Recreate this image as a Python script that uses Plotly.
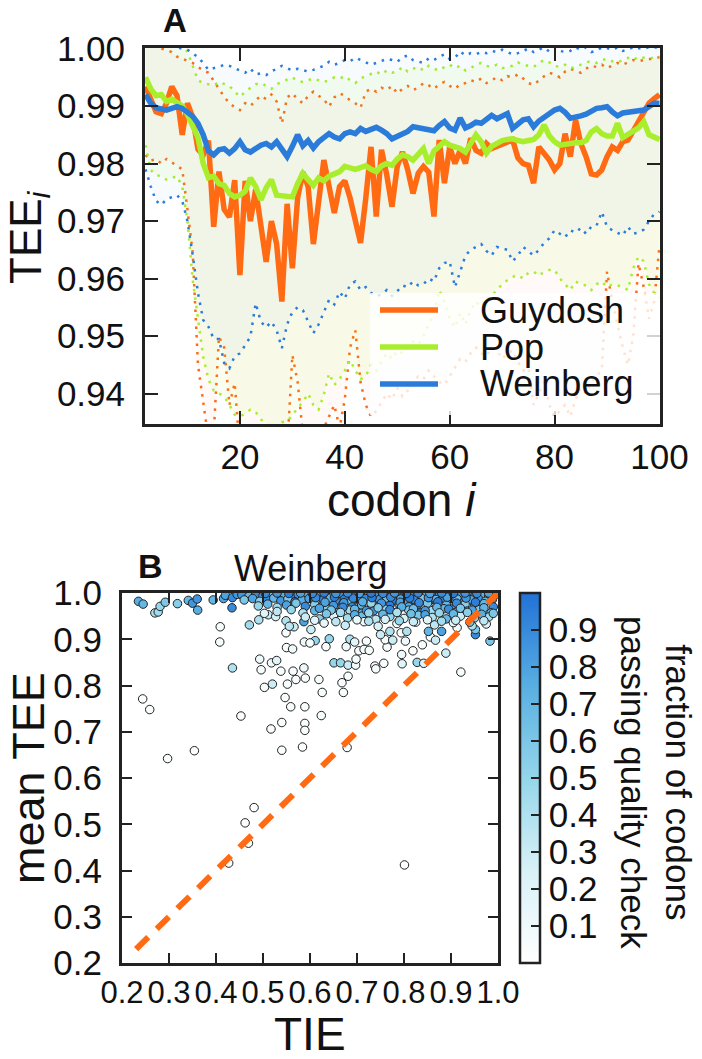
import plotly.graph_objects as go

# ---- panel A: TEE per codon position ----
codon = list(range(2, 101))

guydosh = [0.9934, 0.9910, 0.9890, 0.9887, 0.9905, 0.9934, 0.9918, 0.9850, 0.9905, 0.9880,
           0.9825, 0.9815, 0.9840, 0.9690, 0.9786, 0.9720, 0.9707, 0.9771, 0.9606, 0.9770,
           0.9700, 0.9755, 0.9690, 0.9629, 0.9700, 0.9660, 0.9560, 0.9730, 0.9618, 0.9740,
           0.9785, 0.9760, 0.9660, 0.9730, 0.9806, 0.9760, 0.9714, 0.9760, 0.9770, 0.9740,
           0.9705, 0.9662, 0.9740, 0.9829, 0.9708, 0.9824, 0.9780, 0.9725, 0.9795, 0.9820,
           0.9789, 0.9748, 0.9783, 0.9795, 0.9785, 0.9708, 0.9841, 0.9766, 0.9829, 0.9800,
           0.9823, 0.9800, 0.9844, 0.9823, 0.9818, 0.9835, 0.9826, 0.9830, 0.9835, 0.9838,
           0.9841, 0.9810, 0.9800, 0.9797, 0.9766, 0.9829, 0.9818, 0.9806, 0.9789, 0.9800,
           0.9852, 0.9812, 0.9876, 0.9835, 0.9812, 0.9782, 0.9780, 0.9789, 0.9812, 0.9829,
           0.9823, 0.9838, 0.9841, 0.9858, 0.9876, 0.9893, 0.9905, 0.9913, 0.9920]

pop = [0.9950, 0.9930, 0.9918, 0.9920, 0.9908, 0.9912, 0.9906, 0.9900, 0.9885, 0.9865,
       0.9845, 0.9800, 0.9775, 0.9778, 0.9765, 0.9762, 0.9748, 0.9742, 0.9745, 0.9752,
       0.9775, 0.9760, 0.9737, 0.9758, 0.9772, 0.9745, 0.9744, 0.9742, 0.9742, 0.9765,
       0.9783, 0.9772, 0.9762, 0.9775, 0.9770, 0.9778, 0.9782, 0.9786, 0.9795, 0.9792,
       0.9790, 0.9793, 0.9796, 0.9790, 0.9786, 0.9796, 0.9800, 0.9797, 0.9808, 0.9815,
       0.9812, 0.9806, 0.9815, 0.9826, 0.9800, 0.9822, 0.9830, 0.9838, 0.9832, 0.9830,
       0.9826, 0.9820, 0.9835, 0.9850, 0.9838, 0.9818, 0.9830, 0.9836, 0.9840, 0.9842,
       0.9843, 0.9840, 0.9838, 0.9840, 0.9842, 0.9850, 0.9867, 0.9848, 0.9838, 0.9832,
       0.9834, 0.9836, 0.9836, 0.9836, 0.9840, 0.9855, 0.9861, 0.9852, 0.9848, 0.9848,
       0.9870, 0.9845, 0.9850, 0.9855, 0.9862, 0.9873, 0.9850, 0.9846, 0.9842]

weinberg = [0.9920, 0.9905, 0.9897, 0.9895, 0.9893, 0.9896, 0.9899, 0.9896, 0.9890, 0.9882,
            0.9870, 0.9850, 0.9822, 0.9815, 0.9824, 0.9826, 0.9818, 0.9826, 0.9838, 0.9824,
            0.9820, 0.9826, 0.9832, 0.9835, 0.9829, 0.9838, 0.9826, 0.9812, 0.9830, 0.9850,
            0.9831, 0.9840, 0.9827, 0.9838, 0.9845, 0.9852, 0.9846, 0.9843, 0.9852, 0.9855,
            0.9852, 0.9861, 0.9856, 0.9860, 0.9863, 0.9858, 0.9852, 0.9843, 0.9848, 0.9852,
            0.9856, 0.9864, 0.9862, 0.9860, 0.9858, 0.9857, 0.9866, 0.9873, 0.9862, 0.9858,
            0.9879, 0.9862, 0.9866, 0.9872, 0.9870, 0.9876, 0.9884, 0.9878, 0.9882, 0.9887,
            0.9861, 0.9870, 0.9876, 0.9878, 0.9864, 0.9874, 0.9880, 0.9886, 0.9893, 0.9896,
            0.9889, 0.9879, 0.9880, 0.9883, 0.9886, 0.9890, 0.9896, 0.9897, 0.9899, 0.9890,
            0.9883, 0.9888, 0.9890, 0.9891, 0.9892, 0.9893, 0.9900, 0.9905, 0.9905]

guydosh_hi = [1.0010, 1.0008, 1.0003, 1.0000, 0.9998, 0.9994, 0.9986, 0.9982, 0.9978, 0.9975,
              0.9968, 0.9962, 0.9958, 0.9945, 0.9930, 0.9916, 0.9905, 0.9898, 0.9893, 0.9905,
              0.9900, 0.9910, 0.9918, 0.9912, 0.9920, 0.9908, 0.9870, 0.9915, 0.9922, 0.9912,
              0.9905, 0.9918, 0.9925, 0.9918, 0.9912, 0.9899, 0.9915, 0.9922, 0.9918, 0.9910,
              0.9905, 0.9897, 0.9925, 0.9930, 0.9925, 0.9932, 0.9928, 0.9935, 0.9922, 0.9930,
              0.9935, 0.9928, 0.9932, 0.9940, 0.9936, 0.9930, 0.9938, 0.9942, 0.9935, 0.9930,
              0.9938, 0.9940, 0.9945, 0.9942, 0.9948, 0.9940, 0.9945, 0.9950, 0.9945, 0.9952,
              0.9950, 0.9955, 0.9948, 0.9940, 0.9937, 0.9945, 0.9952, 0.9958, 0.9955, 0.9950,
              0.9960, 0.9965, 0.9962, 0.9958, 0.9965, 0.9970, 0.9968, 0.9972, 0.9966, 0.9970,
              0.9975, 0.9972, 0.9976, 0.9980, 0.9978, 0.9980, 0.9982, 0.9984, 0.9985]

guydosh_lo = [0.9815, 0.9805, 0.9808, 0.9800, 0.9808, 0.9802, 0.9796, 0.9790, 0.9720, 0.9644,
              0.9450, 0.9380, 0.9320, 0.9330, 0.9499, 0.9480, 0.9380, 0.9418, 0.9300, 0.9280,
              0.9290, 0.9270, 0.9300, 0.9260, 0.9310, 0.9290, 0.9250, 0.9300, 0.9467, 0.9420,
              0.9330, 0.9310, 0.9300, 0.9320, 0.9340, 0.9360, 0.9380, 0.9340, 0.9390, 0.9480,
              0.9510, 0.9420, 0.9380, 0.9360, 0.9370, 0.9385, 0.9400, 0.9390, 0.9410, 0.9395,
              0.9405, 0.9420, 0.9430, 0.9425, 0.9440, 0.9430, 0.9420, 0.9415, 0.9430, 0.9445,
              0.9460, 0.9455, 0.9470, 0.9480, 0.9470, 0.9465, 0.9480, 0.9475, 0.9460, 0.9470,
              0.9475, 0.9455, 0.9440, 0.9445, 0.9380, 0.9400, 0.9420, 0.9380, 0.9360, 0.9370,
              0.9380, 0.9360, 0.9390, 0.9410, 0.9400, 0.9420, 0.9430, 0.9440, 0.9612, 0.9560,
              0.9520, 0.9480, 0.9450, 0.9500, 0.9626, 0.9585, 0.9530, 0.9560, 0.9658]

pop_hi = [1.0006, 1.0005, 1.0007, 1.0004, 1.0006, 1.0003, 1.0005, 1.0002, 0.9995, 0.9970,
          0.9945, 0.9940, 0.9938, 0.9936, 0.9942, 0.9938, 0.9935, 0.9925, 0.9916, 0.9925,
          0.9932, 0.9938, 0.9940, 0.9935, 0.9930, 0.9938, 0.9942, 0.9946, 0.9950, 0.9944,
          0.9942, 0.9945, 0.9948, 0.9945, 0.9942, 0.9945, 0.9950, 0.9948, 0.9952, 0.9945,
          0.9940, 0.9948, 0.9952, 0.9955, 0.9960, 0.9955, 0.9962, 0.9958, 0.9960, 0.9968,
          0.9960, 0.9965, 0.9968, 0.9962, 0.9970, 0.9965, 0.9962, 0.9968, 0.9972, 0.9966,
          0.9970, 0.9962, 0.9966, 0.9972, 0.9975, 0.9970, 0.9968, 0.9972, 0.9966, 0.9968,
          0.9970, 0.9976, 0.9972, 0.9970, 0.9968, 0.9975, 0.9980, 0.9976, 0.9970, 0.9968,
          0.9972, 0.9966, 0.9968, 0.9972, 0.9976, 0.9978, 0.9975, 0.9980, 0.9982, 0.9978,
          0.9976, 0.9980, 0.9984, 0.9980, 0.9986, 0.9984, 0.9982, 0.9985, 0.9986]

pop_lo = [0.9832, 0.9789, 0.9780, 0.9778, 0.9772, 0.9775, 0.9778, 0.9760, 0.9700, 0.9597,
          0.9531, 0.9464, 0.9424, 0.9405, 0.9400, 0.9395, 0.9380, 0.9363, 0.9360, 0.9365,
          0.9372, 0.9368, 0.9355, 0.9348, 0.9340, 0.9345, 0.9350, 0.9352, 0.9362, 0.9375,
          0.9385, 0.9400, 0.9380, 0.9372, 0.9398, 0.9435, 0.9415, 0.9425, 0.9440, 0.9458,
          0.9440, 0.9425, 0.9430, 0.9450, 0.9440, 0.9455, 0.9470, 0.9460, 0.9475, 0.9470,
          0.9480, 0.9490, 0.9485, 0.9500, 0.9520, 0.9540, 0.9580, 0.9560, 0.9530, 0.9515,
          0.9540, 0.9520, 0.9545, 0.9560, 0.9550, 0.9565, 0.9570, 0.9580, 0.9590, 0.9597,
          0.9603, 0.9606, 0.9600, 0.9610, 0.9612, 0.9605, 0.9612, 0.9615, 0.9615, 0.9600,
          0.9590, 0.9580, 0.9595, 0.9590, 0.9588, 0.9580, 0.9590, 0.9595, 0.9585, 0.9590,
          0.9588, 0.9585, 0.9580, 0.9618, 0.9638, 0.9630, 0.9590, 0.9575, 0.9566]

weinberg_hi = [1.0005, 1.0004, 1.0006, 1.0005, 1.0003, 1.0004, 1.0002, 1.0000, 0.9998, 0.9992,
               0.9985, 0.9975, 0.9963, 0.9966, 0.9968, 0.9972, 0.9970, 0.9966, 0.9962, 0.9958,
               0.9965, 0.9955, 0.9957, 0.9954, 0.9960, 0.9965, 0.9970, 0.9966, 0.9962, 0.9965,
               0.9963, 0.9960, 0.9963, 0.9966, 0.9970, 0.9977, 0.9972, 0.9975, 0.9980, 0.9978,
               0.9984, 0.9980, 0.9976, 0.9972, 0.9975, 0.9978, 0.9982, 0.9980, 0.9977, 0.9985,
               0.9988, 0.9980, 0.9978, 0.9975, 0.9983, 0.9980, 0.9986, 0.9990, 0.9982, 0.9984,
               0.9995, 0.9988, 0.9992, 0.9990, 0.9994, 0.9992, 0.9996, 0.9994, 0.9998, 0.9994,
               0.9990, 0.9992, 0.9996, 1.0000, 0.9994, 0.9998, 1.0002, 0.9995, 1.0002, 0.9996,
               0.9994, 0.9996, 1.0002, 0.9998, 1.0002, 0.9994, 0.9996, 1.0002, 1.0001, 0.9998,
               1.0002, 0.9996, 0.9998, 1.0003, 1.0001, 0.9999, 1.0003, 1.0002, 1.0003]

weinberg_lo = [0.9790, 0.9760, 0.9735, 0.9728, 0.9738, 0.9742, 0.9745, 0.9735, 0.9700, 0.9640,
               0.9575, 0.9528, 0.9516, 0.9495, 0.9495, 0.9453, 0.9444, 0.9465, 0.9470, 0.9484,
               0.9499, 0.9557, 0.9525, 0.9515, 0.9525, 0.9510, 0.9479, 0.9520, 0.9542, 0.9550,
               0.9545, 0.9525, 0.9505, 0.9520, 0.9540, 0.9563, 0.9555, 0.9577, 0.9565, 0.9590,
               0.9595, 0.9580, 0.9585, 0.9575, 0.9570, 0.9572, 0.9580, 0.9570, 0.9578, 0.9588,
               0.9585, 0.9595, 0.9588, 0.9590, 0.9600, 0.9595, 0.9618, 0.9627, 0.9630, 0.9585,
               0.9612, 0.9640, 0.9650, 0.9655, 0.9660, 0.9648, 0.9640, 0.9655, 0.9652, 0.9650,
               0.9630, 0.9640, 0.9655, 0.9648, 0.9640, 0.9650, 0.9662, 0.9670, 0.9684, 0.9678,
               0.9672, 0.9684, 0.9680, 0.9688, 0.9678, 0.9690, 0.9692, 0.9716, 0.9690, 0.9684,
               0.9680, 0.9675, 0.9690, 0.9678, 0.9680, 0.9685, 0.9700, 0.9712, 0.9716]

# ---- panel B: mean TEE vs TIE (Weinberg) ----
# sparse genes
tie_sparse = [0.235, 0.245, 0.270, 0.277, 0.281, 0.292, 0.318, 0.341, 0.350, 0.360, 0.361, 0.394,
              0.409, 0.408, 0.416, 0.434, 0.435, 0.453, 0.471, 0.491, 0.493, 0.496, 0.503, 0.517,
              0.518, 0.520, 0.529, 0.538, 0.540, 0.540, 0.547, 0.550, 0.549, 0.552, 0.559, 0.563,
              0.564, 0.570, 0.584, 0.587, 0.588, 0.589, 0.589, 0.589, 0.590, 0.566, 0.549, 0.556,
              0.511, 0.503, 0.527, 0.587, 0.244, 0.259, 0.297, 0.354, 0.481, 0.462, 0.469, 0.427,
              0.801, 0.619, 0.626, 0.624, 0.668, 0.671, 0.681, 0.679, 0.651, 0.665, 0.681, 0.697,
              0.698, 0.704, 0.715, 0.726, 0.738, 0.740, 0.757, 0.764, 0.760, 0.776, 0.796, 0.795,
              0.803, 0.819, 0.828, 0.842, 0.839, 0.856, 0.867, 0.889, 0.921, 0.880, 0.913, 0.952,
              0.983, 0.952, 0.611, 0.600, 0.602, 0.634, 0.641, 0.677, 0.685, 0.695, 0.720, 0.750,
              0.770, 0.794, 0.806, 0.852, 0.420, 0.435, 0.445]
tee_sparse = [0.982, 0.976, 0.957, 0.959, 0.971, 0.980, 0.977, 0.984, 0.978, 0.987, 0.963, 0.985,
              0.927, 0.894, 0.988, 0.968, 0.838, 0.734, 0.931, 0.942, 0.857, 0.834, 0.796, 0.706,
              0.849, 0.803, 0.854, 0.831, 0.720, 0.660, 0.774, 0.882, 0.914, 0.803, 0.754, 0.879,
              0.831, 0.813, 0.667, 0.838, 0.894, 0.754, 0.718, 0.703, 0.816, 0.927, 0.940, 0.928,
              0.953, 0.956, 0.949, 0.938, 0.771, 0.748, 0.642, 0.659, 0.536, 0.503, 0.459, 0.416,
              0.412, 0.813, 0.785, 0.735, 0.806, 0.785, 0.820, 0.666, 0.849, 0.849, 0.844, 0.844,
              0.857, 0.875, 0.878, 0.876, 0.842, 0.836, 0.848, 0.883, 0.899, 0.898, 0.847, 0.867,
              0.896, 0.875, 0.850, 0.848, 0.888, 0.905, 0.898, 0.870, 0.829, 0.917, 0.925, 0.910,
              0.896, 0.921, 0.897, 0.892, 0.921, 0.884, 0.901, 0.884, 0.900, 0.894, 0.896, 0.910,
              0.917, 0.914, 0.917, 0.917, 0.995, 0.990, 0.997]
frac_sparse = [0.75, 0.70, 0.40, 0.45, 0.50, 0.60, 0.55, 0.70, 0.85, 0.85, 0.75, 0.70,
               0.05, 0.05, 0.80, 0.90, 0.40, 0.03, 0.45, 0.40, 0.10, 0.05, 0.05, 0.03,
               0.10, 0.30, 0.20, 0.05, 0.03, 0.03, 0.05, 0.05, 0.05, 0.05, 0.05, 0.10,
               0.05, 0.05, 0.03, 0.10, 0.10, 0.05, 0.05, 0.05, 0.05, 0.30, 0.40, 0.35,
               0.30, 0.20, 0.25, 0.80, 0.03, 0.03, 0.03, 0.03, 0.02, 0.02, 0.02, 0.02,
               0.02, 0.05, 0.05, 0.05, 0.05, 0.05, 0.05, 0.03, 0.50, 0.50, 0.30, 0.10,
               0.05, 0.05, 0.05, 0.05, 0.05, 0.05, 0.05, 0.05, 0.05, 0.30, 0.20, 0.10,
               0.10, 0.05, 0.50, 0.20, 0.05, 0.05, 0.30, 0.30, 0.05, 0.80, 0.10, 0.90,
               0.60, 0.60, 0.50, 0.05, 0.30, 0.05, 0.50, 0.10, 0.40, 0.20, 0.05, 0.30,
               0.40, 0.05, 0.40, 0.70, 0.80, 0.90, 0.85]

# dense cluster near TEE = 1
tie_dense = [0.455, 0.470, 0.485, 0.500, 0.515, 0.530, 0.545, 0.560, 0.575, 0.590, 0.605, 0.620,
             0.635, 0.650, 0.665, 0.680, 0.695, 0.710, 0.725, 0.740, 0.755, 0.770, 0.785, 0.800,
             0.815, 0.830, 0.845, 0.860, 0.875, 0.890, 0.905, 0.920, 0.935, 0.950, 0.965, 0.980, 0.995,
             0.460, 0.478, 0.493, 0.508, 0.523, 0.538, 0.553, 0.568, 0.583, 0.598, 0.613, 0.628,
             0.643, 0.658, 0.673, 0.688, 0.703, 0.718, 0.733, 0.748, 0.763, 0.778, 0.793, 0.808,
             0.823, 0.838, 0.853, 0.868, 0.883, 0.898, 0.913, 0.928, 0.943, 0.958, 0.973, 0.988,
             0.490, 0.510, 0.530, 0.550, 0.570, 0.590, 0.610, 0.630, 0.650, 0.670, 0.690, 0.710,
             0.730, 0.750, 0.770, 0.790, 0.810, 0.830, 0.850, 0.870, 0.890, 0.910, 0.930, 0.950, 0.970, 0.990,
             0.530, 0.560, 0.585, 0.610, 0.635, 0.660, 0.685, 0.710, 0.735, 0.760, 0.785, 0.810,
             0.835, 0.860, 0.885, 0.910, 0.935, 0.960, 0.985,
             0.590, 0.620, 0.650, 0.680, 0.710, 0.740, 0.770, 0.800, 0.830, 0.860, 0.890, 0.920, 0.950, 0.980,
             0.630, 0.675, 0.715, 0.745, 0.785, 0.825, 0.865, 0.905, 0.945, 0.975,
             0.612, 0.632, 0.652, 0.672, 0.692, 0.712, 0.732, 0.752, 0.772, 0.792, 0.812, 0.832,
             0.852, 0.872, 0.892, 0.912, 0.932, 0.952,
             0.505, 0.530, 0.555, 0.580, 0.605, 0.630, 0.655, 0.680, 0.705, 0.730, 0.755, 0.780,
             0.805, 0.830, 0.855, 0.880, 0.905, 0.930, 0.955, 0.980,
             0.620, 0.645, 0.670, 0.695, 0.720, 0.745, 0.770, 0.795, 0.820, 0.845, 0.870, 0.895,
             0.920, 0.945, 0.970,
             0.635, 0.665, 0.695, 0.725, 0.755, 0.785, 0.815, 0.845, 0.875, 0.905, 0.935, 0.965, 0.990,
             0.610, 0.655, 0.700, 0.725, 0.760, 0.790, 0.820, 0.850, 0.880, 0.910, 0.940, 0.970]
tee_dense = [0.996, 0.993, 0.997, 0.994, 0.998, 0.992, 0.996, 0.994, 0.997, 0.993, 0.995, 0.998,
             0.992, 0.996, 0.994, 0.997, 0.993, 0.995, 0.998, 0.992, 0.996, 0.994, 0.997, 0.993,
             0.995, 0.998, 0.992, 0.996, 0.994, 0.997, 0.993, 0.995, 0.998, 0.992, 0.996, 0.994, 0.997,
             0.985, 0.988, 0.982, 0.986, 0.989, 0.983, 0.987, 0.981, 0.985, 0.988, 0.982, 0.986,
             0.989, 0.983, 0.987, 0.981, 0.985, 0.988, 0.982, 0.986, 0.989, 0.983, 0.987, 0.981,
             0.985, 0.988, 0.982, 0.986, 0.989, 0.983, 0.987, 0.981, 0.985, 0.988, 0.982, 0.986,
             0.972, 0.976, 0.969, 0.974, 0.978, 0.971, 0.975, 0.968, 0.973, 0.977, 0.970, 0.974,
             0.978, 0.969, 0.973, 0.976, 0.970, 0.975, 0.978, 0.971, 0.974, 0.968, 0.976, 0.972, 0.977, 0.970,
             0.960, 0.964, 0.957, 0.962, 0.966, 0.958, 0.963, 0.956, 0.961, 0.965, 0.959, 0.963,
             0.957, 0.962, 0.966, 0.958, 0.961, 0.964, 0.957,
             0.948, 0.944, 0.951, 0.946, 0.950, 0.943, 0.949, 0.945, 0.952, 0.947, 0.944, 0.950, 0.946, 0.948,
             0.935, 0.930, 0.938, 0.928, 0.934, 0.937, 0.931, 0.936, 0.929, 0.933,
             0.990, 0.980, 0.991, 0.979, 0.989, 0.981, 0.990, 0.978, 0.991, 0.980, 0.989, 0.979,
             0.990, 0.981, 0.991, 0.978, 0.989, 0.980,
             0.999, 1.000, 0.999, 1.000, 0.999, 1.000, 0.999, 1.000, 0.999, 1.000, 0.999, 1.000,
             0.999, 1.000, 0.999, 1.000, 0.999, 1.000, 0.999, 1.000,
             0.967, 0.963, 0.969, 0.965, 0.962, 0.968, 0.964, 0.970, 0.966, 0.962, 0.969, 0.965,
             0.967, 0.963, 0.968,
             0.955, 0.958, 0.953, 0.957, 0.954, 0.958, 0.955, 0.953, 0.957, 0.955, 0.958, 0.954, 0.956,
             0.941, 0.938, 0.942, 0.939, 0.943, 0.940, 0.938, 0.942, 0.939, 0.941, 0.937, 0.940]
frac_dense = [0.85, 0.70, 0.90, 0.80, 0.65, 0.90, 0.75, 0.95, 0.85, 0.70, 0.90, 0.80,
              0.95, 0.75, 0.85, 0.90, 0.70, 0.95, 0.80, 0.85, 0.90, 0.75, 0.95, 0.80,
              0.90, 0.85, 0.70, 0.95, 0.80, 0.90, 0.75, 0.85, 0.90, 0.80, 0.70, 0.85, 0.75,
              0.60, 0.80, 0.55, 0.90, 0.70, 0.85, 0.60, 0.95, 0.75, 0.80, 0.65, 0.90,
              0.70, 0.85, 0.95, 0.60, 0.80, 0.90, 0.70, 0.85, 0.65, 0.95, 0.75, 0.80,
              0.90, 0.60, 0.85, 0.70, 0.95, 0.80, 0.65, 0.90, 0.75, 0.85, 0.70, 0.90,
              0.50, 0.70, 0.45, 0.80, 0.60, 0.90, 0.55, 0.75, 0.85, 0.60, 0.90, 0.70,
              0.50, 0.80, 0.95, 0.65, 0.75, 0.85, 0.60, 0.90, 0.70, 0.80, 0.55, 0.85, 0.70, 0.90,
              0.35, 0.50, 0.40, 0.70, 0.55, 0.80, 0.45, 0.65, 0.85, 0.50, 0.75, 0.60,
              0.90, 0.45, 0.70, 0.55, 0.80, 0.60, 0.75,
              0.30, 0.55, 0.20, 0.45, 0.65, 0.35, 0.50, 0.25, 0.60, 0.40, 0.70, 0.30, 0.55, 0.45,
              0.15, 0.30, 0.10, 0.25, 0.05, 0.20, 0.35, 0.10, 0.40, 0.20,
              0.90, 0.80, 0.95, 0.85, 0.90, 0.75, 0.95, 0.85, 0.90, 0.80, 0.95, 0.90,
              0.85, 0.95, 0.80, 0.90, 0.85, 0.95,
              0.90, 0.85, 0.95, 0.80, 0.90, 0.95, 0.85, 0.90, 0.80, 0.95, 0.90, 0.85,
              0.95, 0.90, 0.80, 0.90, 0.95, 0.85, 0.90, 0.80,
              0.80, 0.60, 0.90, 0.70, 0.85, 0.55, 0.90, 0.75, 0.65, 0.85, 0.70, 0.90,
              0.60, 0.80, 0.70,
              0.60, 0.45, 0.75, 0.50, 0.70, 0.40, 0.65, 0.80, 0.50, 0.70, 0.55, 0.75, 0.60,
              0.20, 0.35, 0.15, 0.40, 0.25, 0.50, 0.30, 0.20, 0.45, 0.30, 0.60, 0.35]

diag = [0.23, 1.0]

ORANGE = '#FF6A13'
GREEN = '#A8EE2C'
BLUE = '#2A7BDA'
INK = '#222222'
FONT = 'Liberation Sans, Arial, sans-serif'

W, H = 702, 1059


def px(x):
    return x / W


def py(y):
    return 1 - y / H


fig = go.Figure()

# percentile bands (dotted) with a faint fill between them
bands = [
    (guydosh_lo, guydosh_hi, ORANGE, 'rgba(255,106,19,0.035)'),
    (pop_lo, pop_hi, GREEN, 'rgba(168,238,44,0.07)'),
    (weinberg_lo, weinberg_hi, BLUE, 'rgba(42,140,220,0.035)'),
]
for lo, hi, col, fill in bands:
    fig.add_trace(go.Scatter(x=codon, y=lo, mode='lines', showlegend=False, hoverinfo='skip',
                             line=dict(color=col, width=2.5, dash='2.5px,6px')))
    fig.add_trace(go.Scatter(x=codon, y=hi, mode='lines', showlegend=False, hoverinfo='skip',
                             fill='tonexty', fillcolor=fill,
                             line=dict(color=col, width=2.5, dash='2.5px,6px')))

series = [('Guydosh', guydosh, ORANGE), ('Pop', pop, GREEN), ('Weinberg', weinberg, BLUE)]
for name, vals, col in series:
    fig.add_trace(go.Scatter(x=codon, y=vals, mode='lines', name=name, showlegend=False,
                             line=dict(color=col, width=5.5)))

# panel B
fig.add_trace(go.Scatter(
    x=tie_sparse + tie_dense, y=tee_sparse + tee_dense, mode='markers', showlegend=False,
    xaxis='x2', yaxis='y2',
    marker=dict(size=8.5, color=frac_sparse + frac_dense, cmin=0, cmax=1,
                colorscale=[[0, '#FFFFFF'], [0.25, '#D8F1F7'], [0.5, '#94D6EA'],
                            [0.75, '#58AEE2'], [1, '#2272D6']],
                line=dict(color=INK, width=1),
                colorbar=dict(x=px(520), xanchor='left', y=py(963), yanchor='bottom',
                              len=370 / H, lenmode='fraction', thickness=20,
                              outlinewidth=2.5, outlinecolor=INK, xpad=0, ypad=0,
                              ticks='inside', ticklen=10, tickwidth=1.5, tickcolor=INK,
                              tickvals=[0.1, 0.2, 0.3, 0.4, 0.5, 0.6, 0.7, 0.8, 0.9],
                              tickfont=dict(size=35, color='#111', family=FONT)))))

fig.add_trace(go.Scatter(x=diag, y=diag, mode='lines', showlegend=False, xaxis='x2', yaxis='y2',
                         line=dict(color=ORANGE, width=6, dash='17px,12px')))

axis_common = dict(showline=True, linewidth=3, linecolor=INK, mirror='ticks', ticks='inside',
                   tickwidth=1.5, tickcolor=INK, showgrid=False, zeroline=False,
                   automargin=False, tickangle=0)

fig.update_layout(
    width=W, height=H, margin=dict(l=0, r=0, t=0, b=0, autoexpand=False),
    paper_bgcolor='white', plot_bgcolor='white', showlegend=False,
    font=dict(family=FONT, color='#111'),
    xaxis=dict(domain=[px(145), px(660)], range=[1.9, 100.1], anchor='y',
               tickvals=[20, 40, 60, 80, 100], ticklen=13, ticklabelstandoff=0,
               tickfont=dict(size=35, color='#111', family=FONT), **axis_common),
    yaxis=dict(domain=[py(424), py(48)], range=[0.9347, 1.0001], anchor='x',
               tickvals=[0.94, 0.95, 0.96, 0.97, 0.98, 0.99, 1.00], tickformat='.2f',
               ticklen=13, ticklabelstandoff=10,
               tickfont=dict(size=35, color='#111', family=FONT), **axis_common),
    xaxis2=dict(domain=[px(122), px(498)], range=[0.2, 1.0], anchor='y2',
                tickvals=[0.2, 0.3, 0.4, 0.5, 0.6, 0.7, 0.8, 0.9, 1.0], tickformat='.1f',
                ticklen=10, ticklabelstandoff=0,
                tickfont=dict(size=31, color='#111', family=FONT), **axis_common),
    yaxis2=dict(domain=[py(963), py(593)], range=[0.2, 1.0], anchor='x2',
                tickvals=[0.2, 0.3, 0.4, 0.5, 0.6, 0.7, 0.8, 0.9, 1.0], tickformat='.1f',
                ticklen=10, ticklabelstandoff=10,
                tickfont=dict(size=35, color='#111', family=FONT), **axis_common),
)

# legend box for panel A
legend_rows = [310, 347, 384]
shapes = [dict(type='rect', xref='paper', yref='paper', x0=px(370), x1=px(660),
               y0=py(415), y1=py(293), line=dict(width=0),
               fillcolor='rgba(255,255,255,0.8)', layer='above')]
annotations = []
for (name, _, col), row in zip(series, legend_rows):
    shapes.append(dict(type='line', xref='paper', yref='paper', x0=px(380), x1=px(438),
                       y0=py(row), y1=py(row), line=dict(color=col, width=5.5), layer='above'))
    annotations.append(dict(text=name, x=px(478), y=py(row), xref='paper', yref='paper',
                            xanchor='left', yanchor='middle', showarrow=False,
                            font=dict(size=36)))

labels = [
    ('<b>A</b>', 175, 20, 0, 33),
    ('codon <i>i</i>', 402, 500, 0, 46),
    ('TEE<sub><i>i</i></sub>', 29, 237, -90, 44),
    ('<b>B</b>', 150, 566, 0, 34),
    ('Weinberg', 310, 568, 0, 36),
    ('mean TEE', 28, 778, -90, 45),
    ('TIE', 310, 1034, 0, 46),
    ('fraction of codons<br>passing quality check', 656, 782, 90, 35),
]
for text, x, y, ang, size in labels:
    annotations.append(dict(text=text, x=px(x), y=py(y), xref='paper', yref='paper',
                            xanchor='center', yanchor='middle', textangle=ang,
                            showarrow=False, font=dict(size=size)))

fig.update_layout(shapes=shapes, annotations=annotations)

fig.write_html('out.html', config={'displayModeBar': False},
               post_script="document.body.style.margin='0px';")
